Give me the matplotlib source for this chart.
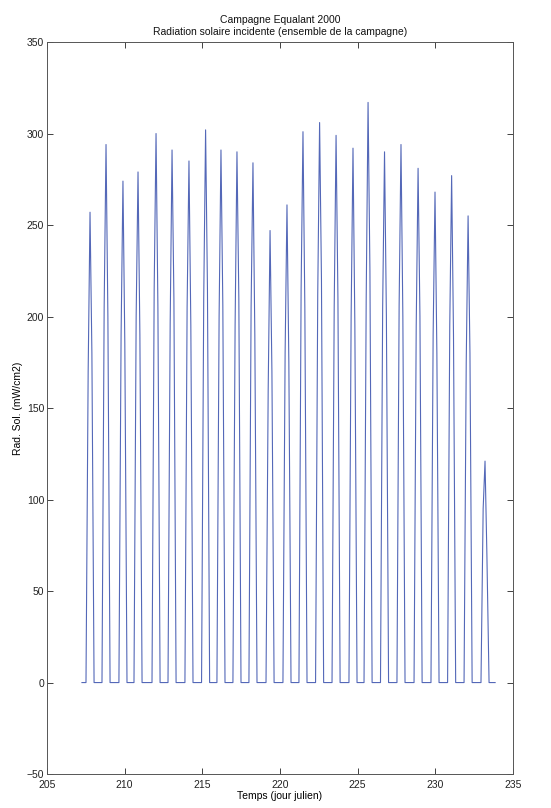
import numpy as np
import matplotlib
matplotlib.use("Agg")
import matplotlib.pyplot as plt

# Campagne Equalant 2000 - rayonnement solaire incident, jour par jour
# instants (jour julien) : lever, matinee, midi solaire, apres-midi, coucher
lever = [207.51, 208.54, 209.63, 210.60, 211.76, 212.79, 213.88, 214.95, 215.94,
         216.97, 218.00, 219.10, 220.19, 221.22, 222.29, 223.35, 224.44, 225.41,
         226.47, 227.53, 228.63, 229.72, 230.79, 231.85, 232.94]
matin = [207.65, 208.68, 209.77, 210.74, 211.90, 212.93, 214.02, 215.09, 216.08,
         217.11, 218.14, 219.24, 220.33, 221.36, 222.43, 223.49, 224.58, 225.55,
         226.61, 227.67, 228.77, 229.86, 230.93, 231.99, 233.08]
midi = [207.77, 208.80, 209.89, 210.86, 212.02, 213.05, 214.14, 215.21, 216.20,
        217.23, 218.26, 219.36, 220.45, 221.48, 222.55, 223.61, 224.70, 225.67,
        226.73, 227.79, 228.89, 229.98, 231.05, 232.11, 233.20]
aprem = [207.89, 208.92, 210.01, 210.98, 212.14, 213.17, 214.26, 215.33, 216.32,
         217.35, 218.38, 219.48, 220.57, 221.60, 222.67, 223.73, 224.82, 225.79,
         226.85, 227.91, 229.01, 230.10, 231.17, 232.23, 233.32]
coucher = [208.03, 209.06, 210.15, 211.12, 212.28, 213.31, 214.40, 215.47, 216.46,
           217.49, 218.52, 219.62, 220.71, 221.74, 222.81, 223.87, 224.96, 225.93,
           226.99, 228.05, 229.15, 230.24, 231.31, 232.37, 233.46]

# rayonnement (mW/cm2) aux memes instants
rad_matin = [170, 205, 190, 200, 215, 196, 205, 210, 200, 195, 205, 160, 180,
             215, 212, 205, 200, 210, 205, 206, 195, 190, 195, 175, 95]
rad_midi = [257, 294, 274, 279, 300, 291, 285, 302, 291, 290, 284, 247, 261,
            301, 306, 299, 292, 317, 290, 294, 281, 268, 277, 255, 121]
rad_aprem = [180, 200, 185, 190, 205, 210, 195, 215, 206, 210, 190, 170, 175,
             205, 220, 210, 195, 225, 200, 200, 200, 180, 190, 180, 70]

debut, fin = 207.25, 233.85

# serie complete : nuits a zero entre les journees
t = [debut]
r = [0]
for i in range(len(midi)):
    t += [lever[i], matin[i], midi[i], aprem[i], coucher[i]]
    r += [0, rad_matin[i], rad_midi[i], rad_aprem[i], 0]
t.append(fin)
r.append(0)

plt.rcParams['font.family'] = ['Liberation Sans', 'DejaVu Sans']
plt.rcParams['font.size'] = 7.5

fig = plt.figure(figsize=(5.51, 8.08), dpi=100)
ax = fig.add_axes([0.0853, 0.042, 0.8457, 0.906])
ax.plot(t, r, color='#5468b8', lw=0.8)

ax.set_xlim(205, 235)
ax.set_ylim(-50, 350)
ax.set_xticks(np.arange(205, 236, 5))
ax.set_yticks(np.arange(-50, 351, 50))
ax.tick_params(direction='in', length=4, width=0.6, top=True, right=True,
               colors='#222222', labelsize=7.5)
ax.tick_params(axis='x', pad=4.5)
ax.tick_params(axis='y', pad=2)
for s in ax.spines.values():
    s.set_color('#555555')
    s.set_linewidth(0.7)

ax.set_title('Campagne Equalant 2000\nRadiation solaire incidente (ensemble de la campagne)',
             fontsize=7.5, color='#111111', pad=5, linespacing=1.2)
ax.set_xlabel('Temps (jour julien)', fontsize=7.5, labelpad=0.5)
ax.set_ylabel('Rad. Sol. (mW/cm2)', fontsize=7.5, labelpad=3)

fig.savefig('out.png', dpi=100)
